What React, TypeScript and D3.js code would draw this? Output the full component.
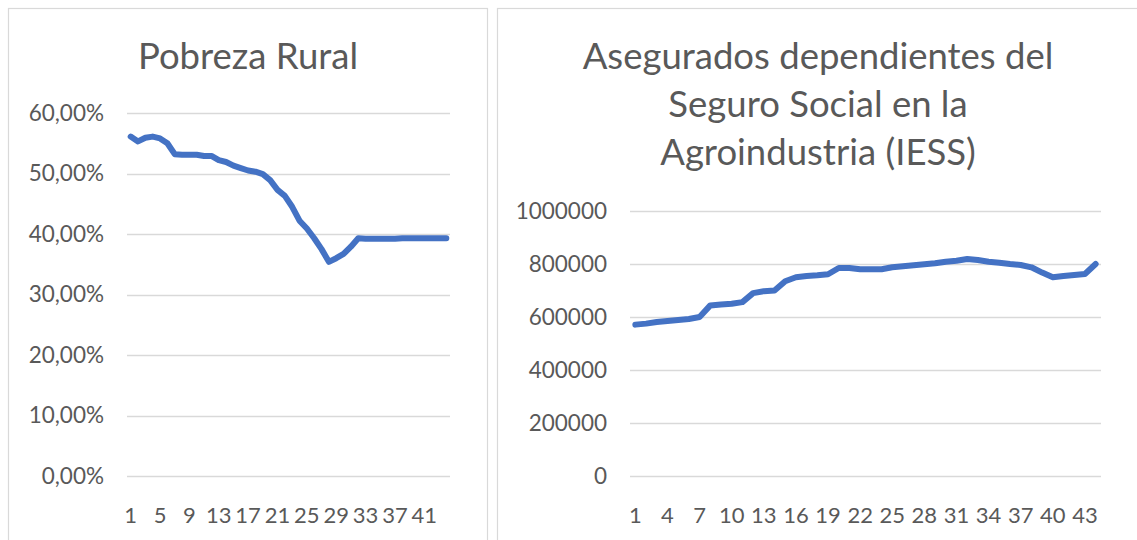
import React from "react";
import * as d3 from "d3";

const categories: number[] = Array.from({ length: 44 }, (_, i) => i + 1);

const pobrezaRural: number[] = [
  56.1, 55.3, 55.9, 56.1, 55.8, 55.0, 53.2, 53.1, 53.1, 53.1,
  52.9, 52.9, 52.2, 51.9, 51.3, 50.9, 50.5, 50.3, 49.9, 48.9,
  47.3, 46.3, 44.5, 42.2, 40.9, 39.3, 37.5, 35.4, 36.0, 36.7,
  37.9, 39.3, 39.2, 39.2, 39.2, 39.2, 39.2, 39.3, 39.3, 39.3,
  39.3, 39.3, 39.3, 39.3,
];

const asegurados: number[] = [
  571250, 575000, 581250, 585000, 588750, 592500, 600000, 643750, 647500, 650000,
  656250, 690000, 697500, 700000, 735000, 750000, 755000, 757500, 761250, 785000,
  785000, 780000, 780000, 780000, 787500, 791250, 795000, 798750, 802500, 808750,
  812500, 818750, 815000, 808750, 805000, 800000, 796250, 787500, 767500, 750000,
  755000, 758750, 762500, 800000,
];

const leftYTicks: number[] = [0, 10, 20, 30, 40, 50, 60];
const rightYTicks: number[] = [0, 200000, 400000, 600000, 800000, 1000000];
const leftXTickLabels: number[] = [1, 5, 9, 13, 17, 21, 25, 29, 33, 37, 41];
const rightXTickLabels: number[] = [1, 4, 7, 10, 13, 16, 19, 22, 25, 28, 31, 34, 37, 40, 43];

const leftTitle: string[] = ["Pobreza Rural"];
const rightTitle: string[] = ["Asegurados dependientes del", "Seguro Social en la", "Agroindustria (IESS)"];

const FONT = "Lato, 'Open Sans', sans-serif";
const TEXT = "#595959";
const GRID = "#d9d9d9";
const LINE = "#4472C4";

type PanelProps = {
  px: number; pw: number;
  plotL: number; plotR: number; plotT: number; plotB: number;
  values: number[]; ticks: number[]; domainMax: number;
  fmt: (v: number) => string; xLabels: number[];
  title: string[]; titleCx: number;
};

function Panel(p: PanelProps) {
  const x = d3.scaleBand<number>().domain(categories).range([p.plotL, p.plotR]).padding(0);
  const y = d3.scaleLinear().domain([0, p.domainMax]).range([p.plotB, p.plotT]);
  const cx = (c: number) => (x(c) as number) + x.bandwidth() / 2;
  const line = d3.line<number>().x((_, i) => cx(categories[i])).y((d) => y(d));
  return (
    <g>
      <rect x={p.px + 0.5} y={8.5} width={p.pw} height={545} fill="#fff" stroke={GRID} strokeWidth={1.2} />
      {p.title.map((t, i) => (
        <text key={i} x={p.titleCx} y={69 + i * 48} textAnchor="middle" fontFamily={FONT} fontSize={36.5} fill={TEXT}>{t}</text>
      ))}
      {p.ticks.map((t) => (
        <g key={t}>
          <line x1={p.plotL} x2={p.plotR} y1={Math.round(y(t)) + 0.5} y2={Math.round(y(t)) + 0.5} stroke={GRID} strokeWidth={1.3} />
          <text x={p.plotL - 23} y={y(t)} dy="0.35em" textAnchor="end" fontFamily={FONT} fontSize={22.5} fill={TEXT}>{p.fmt(t)}</text>
        </g>
      ))}
      {p.xLabels.map((c) => (
        <text key={c} x={cx(c)} y={523} textAnchor="middle" fontFamily={FONT} fontSize={22} fill={TEXT}>{c}</text>
      ))}
      <path d={line(p.values) || ""} fill="none" stroke={LINE} strokeWidth={6} strokeLinejoin="round" strokeLinecap="round" />
    </g>
  );
}

export default function App() {
  const pct = (v: number) => d3.format(".2f")(v).replace(".", ",") + "%";
  const num = (v: number) => String(v);
  return (
    <svg width={1137} height={540} style={{ position: "absolute", left: 0, top: 0, background: "#fff" }}>
      <rect x={0} y={0} width={1137} height={540} fill="#fff" />
      <Panel px={8} pw={479} plotL={127} plotR={450} plotT={113} plotB={476}
        values={pobrezaRural} ticks={leftYTicks} domainMax={60} fmt={pct} xLabels={leftXTickLabels}
        title={leftTitle} titleCx={248} />
      <Panel px={497} pw={660} plotL={630} plotR={1101} plotT={211} plotB={476}
        values={asegurados} ticks={rightYTicks} domainMax={1000000} fmt={num} xLabels={rightXTickLabels}
        title={rightTitle} titleCx={818} />
    </svg>
  );
}
